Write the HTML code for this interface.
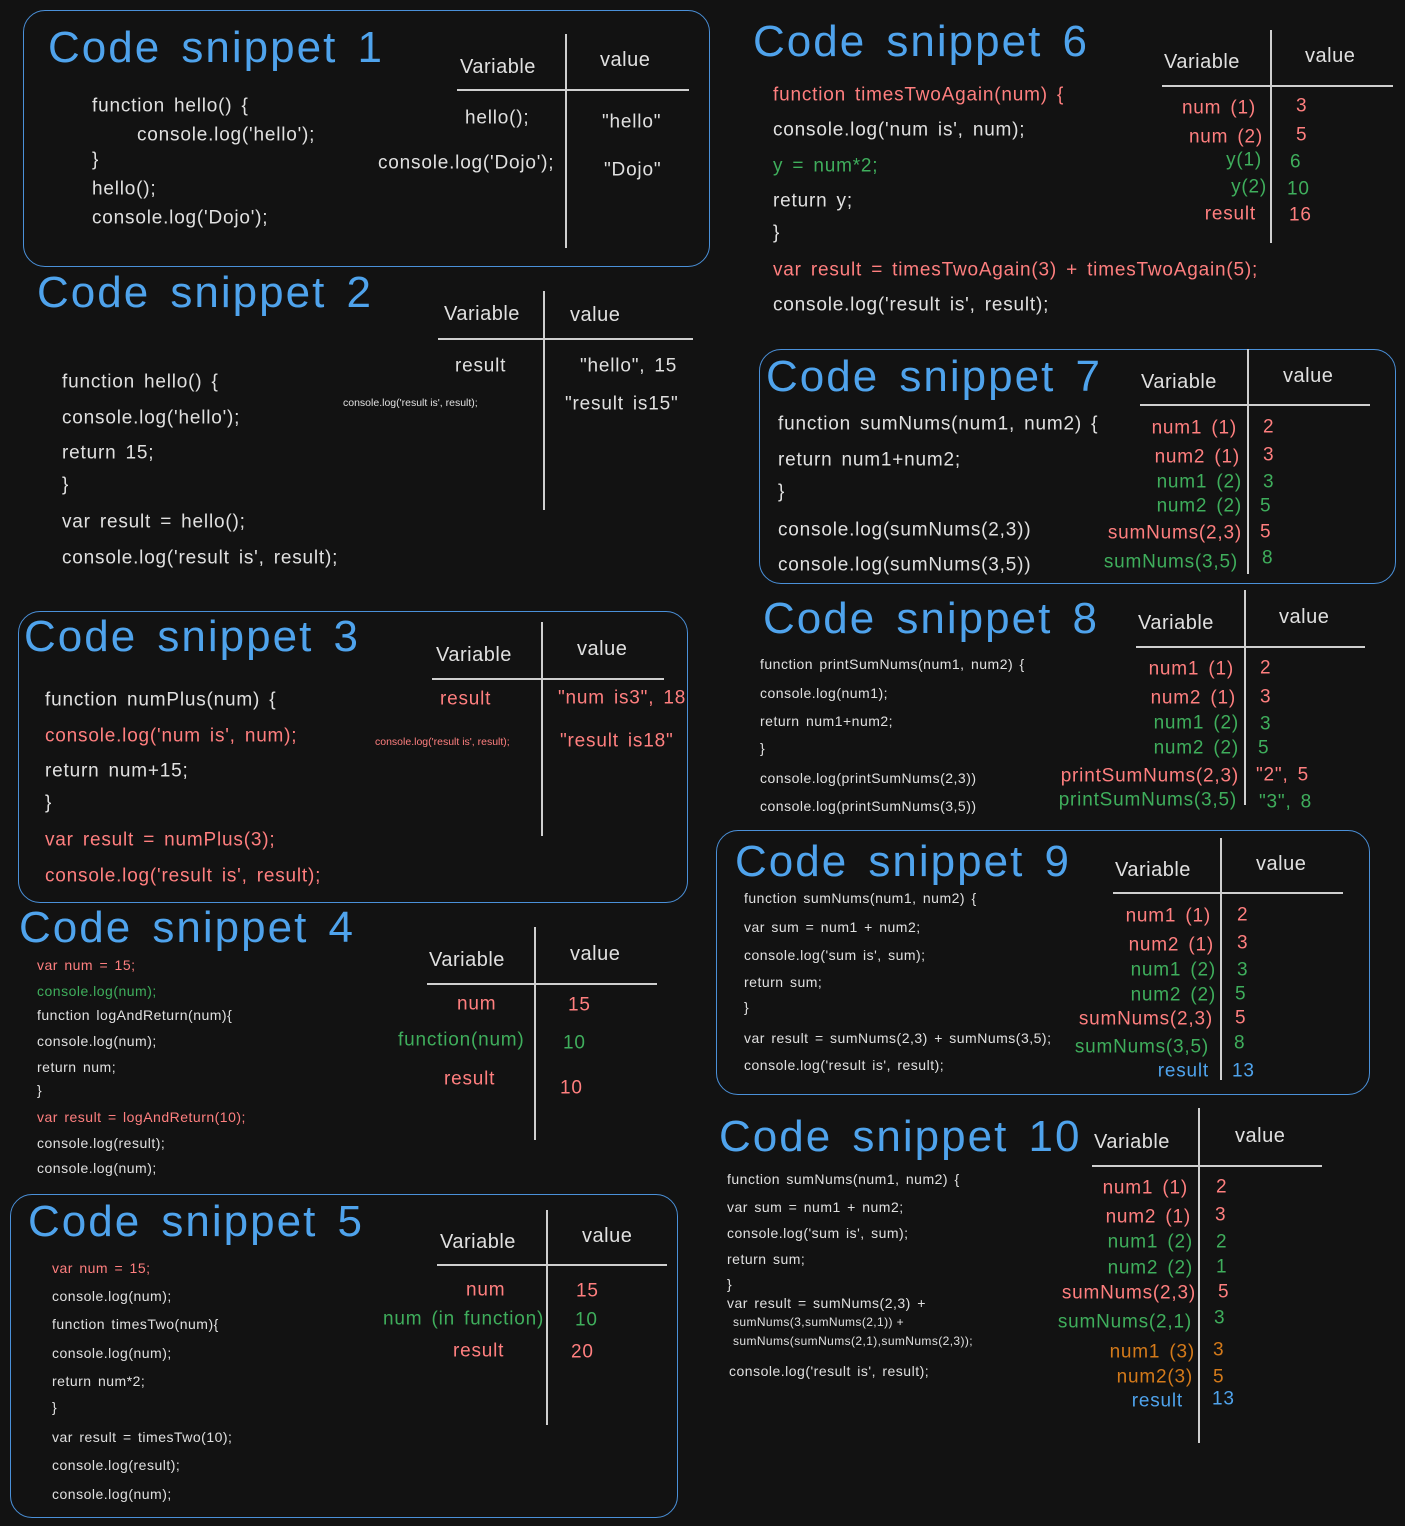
<!DOCTYPE html>
<html><head><meta charset="utf-8"><style>
html,body{margin:0;padding:0;background:#121212;}
#p{position:relative;width:1405px;height:1526px;overflow:hidden;background:#121212;font-family:"Liberation Sans",sans-serif;color:#e0e0e0;}
.t{position:absolute;white-space:pre;transform:translateY(-50%);line-height:1;}
.r{position:absolute;white-space:pre;transform:translate(-100%,-50%);line-height:1;}
.h{font-size:44px;color:#4fa3ec;letter-spacing:2px;word-spacing:6px;}
.b{position:absolute;border:1.6px solid #4a90d9;border-radius:22px;}
.v{position:absolute;width:2px;background:#cfcfcf;}
.hl{position:absolute;height:2px;background:#cfcfcf;}
.R{color:#ff7f7f}.G{color:#3fae5c}.O{color:#d47a1a}.B{color:#4fa3ec}
.c{font-size:19px;letter-spacing:0.8px;word-spacing:3px}.s{font-size:14px;letter-spacing:0.5px;word-spacing:2px}.th{font-size:20px;letter-spacing:0.5px}
</style></head><body><div id="p">
<div class="b" style="left:23px;top:10px;width:685px;height:255px"></div>
<div class="b" style="left:18px;top:611px;width:668px;height:290px"></div>
<div class="b" style="left:10px;top:1194px;width:666px;height:322px"></div>
<div class="b" style="left:759px;top:349px;width:635px;height:233px"></div>
<div class="b" style="left:716px;top:830px;width:652px;height:263px"></div>
<div class="v" style="left:565px;top:34px;height:214px"></div><div class="hl" style="left:457px;top:89px;width:232px"></div>
<div class="v" style="left:543px;top:291px;height:219px"></div><div class="hl" style="left:438px;top:338px;width:255px"></div>
<div class="v" style="left:541px;top:622px;height:214px"></div><div class="hl" style="left:432px;top:678px;width:232px"></div>
<div class="v" style="left:534px;top:927px;height:213px"></div><div class="hl" style="left:427px;top:983px;width:230px"></div>
<div class="v" style="left:546px;top:1210px;height:215px"></div><div class="hl" style="left:437px;top:1264px;width:230px"></div>
<div class="v" style="left:1270px;top:30px;height:213px"></div><div class="hl" style="left:1162px;top:85px;width:231px"></div>
<div class="v" style="left:1247px;top:349px;height:225px"></div><div class="hl" style="left:1140px;top:404px;width:230px"></div>
<div class="v" style="left:1244px;top:590px;height:215px"></div><div class="hl" style="left:1136px;top:646px;width:229px"></div>
<div class="v" style="left:1220px;top:838px;height:242px"></div><div class="hl" style="left:1113px;top:892px;width:230px"></div>
<div class="v" style="left:1198px;top:1108px;height:335px"></div><div class="hl" style="left:1092px;top:1165px;width:230px"></div>

<div class="t h" style="left:48px;top:48px">Code snippet 1</div>
<div class="t c" style="left:92px;top:106px">function hello() {</div>
<div class="t c" style="left:137px;top:135px">console.log('hello');</div>
<div class="t c" style="left:92px;top:160px">}</div>
<div class="t c" style="left:92px;top:189px">hello();</div>
<div class="t c" style="left:92px;top:218px">console.log('Dojo');</div>
<div class="t th" style="left:460px;top:67px">Variable</div>
<div class="t th" style="left:600px;top:60px">value</div>
<div class="t c" style="left:465px;top:118px">hello();</div>
<div class="t c" style="left:378px;top:163px">console.log('Dojo');</div>
<div class="t c" style="left:602px;top:122px">"hello"</div>
<div class="t c" style="left:604px;top:170px">"Dojo"</div>

<div class="t h" style="left:37px;top:293px">Code snippet 2</div>
<div class="t c" style="left:62px;top:382px">function hello() {</div>
<div class="t c" style="left:62px;top:418px">console.log('hello');</div>
<div class="t c" style="left:62px;top:453px">return 15;</div>
<div class="t c" style="left:62px;top:485px">}</div>
<div class="t c" style="left:62px;top:522px">var result = hello();</div>
<div class="t c" style="left:62px;top:558px">console.log('result is', result);</div>
<div class="t th" style="left:444px;top:314px">Variable</div>
<div class="t th" style="left:570px;top:315px">value</div>
<div class="t c" style="left:455px;top:366px">result</div>
<div class="t" style="left:343px;top:403px;font-size:10.5px">console.log('result is', result);</div>
<div class="t c" style="left:580px;top:366px">"hello", 15</div>
<div class="t c" style="left:565px;top:404px">"result is15"</div>

<div class="t h" style="left:24px;top:637px">Code snippet 3</div>
<div class="t c" style="left:45px;top:700px">function numPlus(num) {</div>
<div class="t c R" style="left:45px;top:736px">console.log('num is', num);</div>
<div class="t c" style="left:45px;top:771px">return num+15;</div>
<div class="t c" style="left:45px;top:803px">}</div>
<div class="t c R" style="left:45px;top:840px">var result = numPlus(3);</div>
<div class="t c R" style="left:45px;top:876px">console.log('result is', result);</div>
<div class="t th" style="left:436px;top:655px">Variable</div>
<div class="t th" style="left:577px;top:649px">value</div>
<div class="t c R" style="left:440px;top:699px">result</div>
<div class="t R" style="left:375px;top:742px;font-size:10.5px">console.log('result is', result);</div>
<div class="t c R" style="left:558px;top:698px">"num is3", 18</div>
<div class="t c R" style="left:560px;top:741px">"result is18"</div>

<div class="t h" style="left:19px;top:928px">Code snippet 4</div>
<div class="t s R" style="left:37px;top:965px">var num = 15;</div>
<div class="t s G" style="left:37px;top:991px">console.log(num);</div>
<div class="t s" style="left:37px;top:1015px">function logAndReturn(num){</div>
<div class="t s" style="left:37px;top:1041px">console.log(num);</div>
<div class="t s" style="left:37px;top:1067px">return num;</div>
<div class="t s" style="left:37px;top:1090px">}</div>
<div class="t s R" style="left:37px;top:1117px">var result = logAndReturn(10);</div>
<div class="t s" style="left:37px;top:1143px">console.log(result);</div>
<div class="t s" style="left:37px;top:1168px">console.log(num);</div>
<div class="t th" style="left:429px;top:960px">Variable</div>
<div class="t th" style="left:570px;top:954px">value</div>
<div class="t c R" style="left:457px;top:1004px">num</div>
<div class="t c G" style="left:398px;top:1040px">function(num)</div>
<div class="t c R" style="left:444px;top:1079px">result</div>
<div class="t c R" style="left:568px;top:1005px">15</div>
<div class="t c G" style="left:563px;top:1043px">10</div>
<div class="t c R" style="left:560px;top:1088px">10</div>

<div class="t h" style="left:28px;top:1222px">Code snippet 5</div>
<div class="t s R" style="left:52px;top:1268px">var num = 15;</div>
<div class="t s" style="left:52px;top:1296px">console.log(num);</div>
<div class="t s" style="left:52px;top:1324px">function timesTwo(num){</div>
<div class="t s" style="left:52px;top:1353px">console.log(num);</div>
<div class="t s" style="left:52px;top:1381px">return num*2;</div>
<div class="t s" style="left:52px;top:1407px">}</div>
<div class="t s" style="left:52px;top:1437px">var result = timesTwo(10);</div>
<div class="t s" style="left:52px;top:1465px">console.log(result);</div>
<div class="t s" style="left:52px;top:1494px">console.log(num);</div>
<div class="t th" style="left:440px;top:1242px">Variable</div>
<div class="t th" style="left:582px;top:1236px">value</div>
<div class="t c R" style="left:466px;top:1290px">num</div>
<div class="t c G" style="left:383px;top:1319px">num (in function)</div>
<div class="t c R" style="left:453px;top:1351px">result</div>
<div class="t c R" style="left:576px;top:1291px">15</div>
<div class="t c G" style="left:575px;top:1320px">10</div>
<div class="t c R" style="left:571px;top:1352px">20</div>

<div class="t h" style="left:753px;top:42px">Code snippet 6</div>
<div class="t c R" style="left:773px;top:95px">function timesTwoAgain(num) {</div>
<div class="t c" style="left:773px;top:130px">console.log('num is', num);</div>
<div class="t c G" style="left:773px;top:166px">y = num*2;</div>
<div class="t c" style="left:773px;top:201px">return y;</div>
<div class="t c" style="left:773px;top:233px">}</div>
<div class="t c R" style="left:773px;top:270px">var result = timesTwoAgain(3) + timesTwoAgain(5);</div>
<div class="t c" style="left:773px;top:305px">console.log('result is', result);</div>
<div class="t th" style="left:1164px;top:62px">Variable</div>
<div class="t th" style="left:1305px;top:56px">value</div>
<div class="r c R" style="left:1256px;top:108px">num (1)</div>
<div class="r c R" style="left:1263px;top:137px">num (2)</div>
<div class="r c G" style="left:1262px;top:160px">y(1)</div>
<div class="r c G" style="left:1267px;top:187px">y(2)</div>
<div class="r c R" style="left:1256px;top:214px">result</div>
<div class="t c R" style="left:1296px;top:106px">3</div>
<div class="t c R" style="left:1296px;top:135px">5</div>
<div class="t c G" style="left:1290px;top:162px">6</div>
<div class="t c G" style="left:1287px;top:189px">10</div>
<div class="t c R" style="left:1289px;top:215px">16</div>

<div class="t h" style="left:766px;top:377px">Code snippet 7</div>
<div class="t c" style="left:778px;top:424px">function sumNums(num1, num2) {</div>
<div class="t c" style="left:778px;top:460px">return num1+num2;</div>
<div class="t c" style="left:778px;top:492px">}</div>
<div class="t c" style="left:778px;top:530px">console.log(sumNums(2,3))</div>
<div class="t c" style="left:778px;top:565px">console.log(sumNums(3,5))</div>
<div class="t th" style="left:1141px;top:382px">Variable</div>
<div class="t th" style="left:1283px;top:376px">value</div>
<div class="r c R" style="left:1237px;top:428px">num1 (1)</div>
<div class="r c R" style="left:1240px;top:457px">num2 (1)</div>
<div class="r c G" style="left:1242px;top:482px">num1 (2)</div>
<div class="r c G" style="left:1242px;top:506px">num2 (2)</div>
<div class="r c R" style="left:1242px;top:533px">sumNums(2,3)</div>
<div class="r c G" style="left:1238px;top:562px">sumNums(3,5)</div>
<div class="t c R" style="left:1263px;top:427px">2</div>
<div class="t c R" style="left:1263px;top:455px">3</div>
<div class="t c G" style="left:1263px;top:482px">3</div>
<div class="t c G" style="left:1260px;top:506px">5</div>
<div class="t c R" style="left:1260px;top:532px">5</div>
<div class="t c G" style="left:1262px;top:558px">8</div>

<div class="t h" style="left:763px;top:619px">Code snippet 8</div>
<div class="t s" style="left:760px;top:664px">function printSumNums(num1, num2) {</div>
<div class="t s" style="left:760px;top:693px">console.log(num1);</div>
<div class="t s" style="left:760px;top:721px">return num1+num2;</div>
<div class="t s" style="left:760px;top:748px">}</div>
<div class="t s" style="left:760px;top:778px">console.log(printSumNums(2,3))</div>
<div class="t s" style="left:760px;top:806px">console.log(printSumNums(3,5))</div>
<div class="t th" style="left:1138px;top:623px">Variable</div>
<div class="t th" style="left:1279px;top:617px">value</div>
<div class="r c R" style="left:1234px;top:669px">num1 (1)</div>
<div class="r c R" style="left:1236px;top:698px">num2 (1)</div>
<div class="r c G" style="left:1239px;top:723px">num1 (2)</div>
<div class="r c G" style="left:1239px;top:748px">num2 (2)</div>
<div class="r c R" style="left:1239px;top:776px">printSumNums(2,3)</div>
<div class="r c G" style="left:1237px;top:800px">printSumNums(3,5)</div>
<div class="t c R" style="left:1260px;top:668px">2</div>
<div class="t c R" style="left:1260px;top:697px">3</div>
<div class="t c G" style="left:1260px;top:724px">3</div>
<div class="t c G" style="left:1258px;top:748px">5</div>
<div class="t c R" style="left:1256px;top:775px">"2", 5</div>
<div class="t c G" style="left:1259px;top:802px">"3", 8</div>

<div class="t h" style="left:735px;top:862px">Code snippet 9</div>
<div class="t s" style="left:744px;top:898px">function sumNums(num1, num2) {</div>
<div class="t s" style="left:744px;top:927px">var sum = num1 + num2;</div>
<div class="t s" style="left:744px;top:955px">console.log('sum is', sum);</div>
<div class="t s" style="left:744px;top:982px">return sum;</div>
<div class="t s" style="left:744px;top:1007px">}</div>
<div class="t s" style="left:744px;top:1038px">var result = sumNums(2,3) + sumNums(3,5);</div>
<div class="t s" style="left:744px;top:1065px">console.log('result is', result);</div>
<div class="t th" style="left:1115px;top:870px">Variable</div>
<div class="t th" style="left:1256px;top:864px">value</div>
<div class="r c R" style="left:1211px;top:916px">num1 (1)</div>
<div class="r c R" style="left:1214px;top:945px">num2 (1)</div>
<div class="r c G" style="left:1216px;top:970px">num1 (2)</div>
<div class="r c G" style="left:1216px;top:995px">num2 (2)</div>
<div class="r c R" style="left:1213px;top:1019px">sumNums(2,3)</div>
<div class="r c G" style="left:1209px;top:1047px">sumNums(3,5)</div>
<div class="r c B" style="left:1209px;top:1071px">result</div>
<div class="t c R" style="left:1237px;top:915px">2</div>
<div class="t c R" style="left:1237px;top:943px">3</div>
<div class="t c G" style="left:1237px;top:970px">3</div>
<div class="t c G" style="left:1235px;top:994px">5</div>
<div class="t c R" style="left:1235px;top:1018px">5</div>
<div class="t c G" style="left:1234px;top:1043px">8</div>
<div class="t c B" style="left:1232px;top:1071px">13</div>

<div class="t h" style="left:719px;top:1137px">Code snippet 10</div>
<div class="t s" style="left:727px;top:1179px">function sumNums(num1, num2) {</div>
<div class="t s" style="left:727px;top:1207px">var sum = num1 + num2;</div>
<div class="t s" style="left:727px;top:1233px">console.log('sum is', sum);</div>
<div class="t s" style="left:727px;top:1259px">return sum;</div>
<div class="t s" style="left:727px;top:1284px">}</div>
<div class="t s" style="left:727px;top:1303px">var result = sumNums(2,3) +</div>
<div class="t" style="left:733px;top:1322px;font-size:12px;letter-spacing:0.4px">sumNums(3,sumNums(2,1)) +</div>
<div class="t" style="left:733px;top:1341px;font-size:12px;letter-spacing:0.4px">sumNums(sumNums(2,1),sumNums(2,3));</div>
<div class="t s" style="left:729px;top:1371px">console.log('result is', result);</div>
<div class="t th" style="left:1094px;top:1142px">Variable</div>
<div class="t th" style="left:1235px;top:1136px">value</div>
<div class="r c R" style="left:1188px;top:1188px">num1 (1)</div>
<div class="r c R" style="left:1191px;top:1217px">num2 (1)</div>
<div class="r c G" style="left:1193px;top:1242px">num1 (2)</div>
<div class="r c G" style="left:1193px;top:1268px">num2 (2)</div>
<div class="r c R" style="left:1196px;top:1293px">sumNums(2,3)</div>
<div class="r c G" style="left:1192px;top:1322px">sumNums(2,1)</div>
<div class="r c O" style="left:1195px;top:1352px">num1 (3)</div>
<div class="r c O" style="left:1193px;top:1377px">num2(3)</div>
<div class="r c B" style="left:1183px;top:1401px">result</div>
<div class="t c R" style="left:1216px;top:1187px">2</div>
<div class="t c R" style="left:1215px;top:1215px">3</div>
<div class="t c G" style="left:1216px;top:1242px">2</div>
<div class="t c G" style="left:1216px;top:1267px">1</div>
<div class="t c R" style="left:1218px;top:1292px">5</div>
<div class="t c G" style="left:1214px;top:1318px">3</div>
<div class="t c O" style="left:1213px;top:1350px">3</div>
<div class="t c O" style="left:1213px;top:1377px">5</div>
<div class="t c B" style="left:1212px;top:1399px">13</div>
</div></body></html>
